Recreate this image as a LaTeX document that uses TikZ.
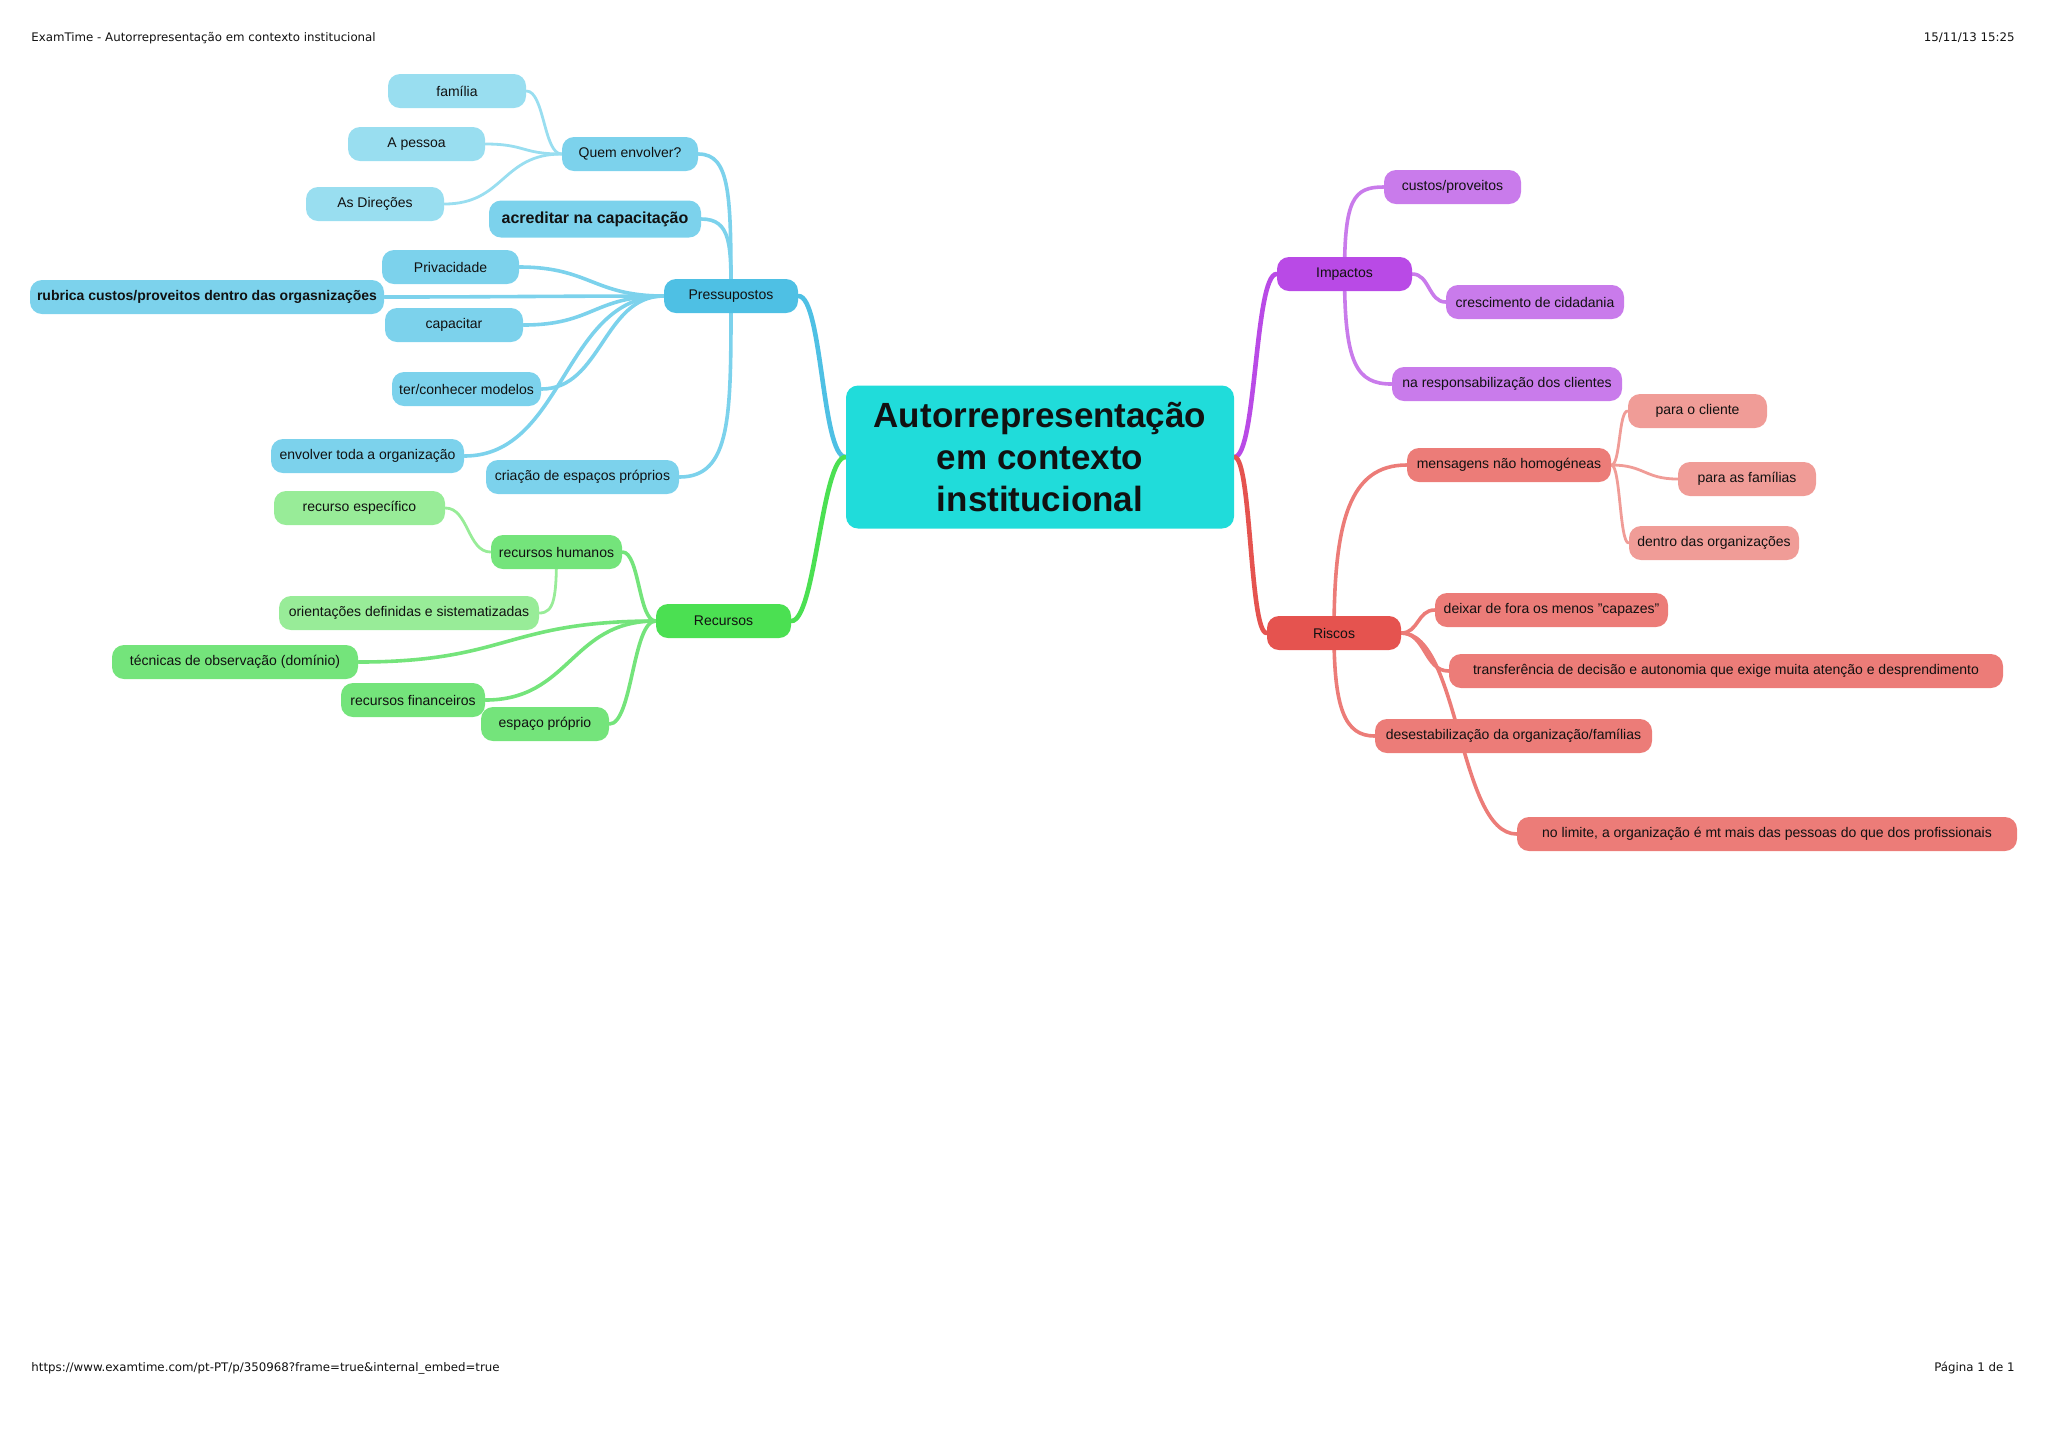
\documentclass[tikz,border=0pt]{standalone}
\usepackage{fontspec}
\setmainfont{Liberation Sans}
\newfontfamily\hdrfont{DejaVu Sans}
\usetikzlibrary{backgrounds}
\definecolor{cenC}{HTML}{20DCDA}
\definecolor{bluA}{HTML}{4EC0E4}
\definecolor{bluB}{HTML}{7CD2EC}
\definecolor{bluC}{HTML}{99DEF0}
\definecolor{grnA}{HTML}{4BE052}
\definecolor{grnB}{HTML}{74E47B}
\definecolor{grnC}{HTML}{98EC98}
\definecolor{purA}{HTML}{B94AE6}
\definecolor{purB}{HTML}{C97BEB}
\definecolor{redA}{HTML}{E5534F}
\definecolor{redB}{HTML}{EC7C78}
\definecolor{redC}{HTML}{F09C97}
\definecolor{txt}{HTML}{111111}
\begin{document}
\begin{tikzpicture}[x=0.5pt,y=-0.5pt,
  nd/.style={rounded corners=6pt, minimum height=17pt, inner xsep=3pt, inner ysep=0pt,
    font=\fontsize{7}{8.4}\selectfont, text=txt, minimum width=#1*0.5pt},
  bA/.style={nd=#1, fill=bluA}, bB/.style={nd=#1, fill=bluB}, bC/.style={nd=#1, fill=bluC},
  gA/.style={nd=#1, fill=grnA}, gB/.style={nd=#1, fill=grnB}, gC/.style={nd=#1, fill=grnC},
  pA/.style={nd=#1, fill=purA}, pB/.style={nd=#1, fill=purB},
  rA/.style={nd=#1, fill=redA}, rB/.style={nd=#1, fill=redB}, rC/.style={nd=#1, fill=redC},
  cen/.style={rounded corners=6pt, fill=cenC, minimum width=194pt, minimum height=71.5pt,
    align=center, font=\fontsize{17.5}{21}\selectfont\bfseries, text=txt},
  hdr/.style={font=\hdrfont\fontsize{5.9}{7}\selectfont, text=txt, inner sep=0pt},
  eA/.style={line width=2.3pt, line cap=round},
  eB/.style={line width=1.8pt, line cap=round},
  eC/.style={line width=1.4pt, line cap=round}]
\useasboundingbox (0,0) rectangle (2048,1448);

% header / footer
\node[hdr, anchor=west] (h1) at (31,38) {ExamTime - Autorrepresentação em contexto institucional};
\node[hdr, anchor=east] (h2) at (2015,38) {15/11/13 15:25};
\node[hdr, anchor=west] (f1) at (31,1368) {https://www.examtime.com/pt-PT/p/350968?frame=true\&internal\_embed=true};
\node[hdr, anchor=east] (f2) at (2015,1368) {Página 1 de 1};

% central
\node[cen] (c) at (1040,457) {Autorrepresentação\\em contexto\\institucional};

% blue branch
\node[bA=134] (pres) at (731,296) {Pressupostos};
\node[bB=136] (qe) at (630,154) {Quem envolver?};
\node[bC=138] (fam) at (457,91) {família};
\node[bC=137] (pessoa) at (416.5,144) {A pessoa};
\node[bC=138] (dir) at (375,204) {As Direções};
\node[bB=212, minimum height=18.5pt, font=\fontsize{8}{9.6}\selectfont\bfseries] (acred) at (595,219) {acreditar na capacitação};
\node[bB=137] (priv) at (450.5,267) {Privacidade};
\node[bB=354, inner xsep=1.5pt, font=\fontsize{7}{8.4}\selectfont\bfseries] (rub) at (207,297) {rubrica custos/proveitos dentro das orgasnizações};
\node[bB=138] (cap) at (454,325) {capacitar};
\node[bB=149] (ter) at (466.5,389) {ter/conhecer modelos};
\node[bB=193] (env) at (367.5,456) {envolver toda a organização};
\node[bB=193] (cria) at (582.5,477) {criação de espaços próprios};

% green branch
\node[gA=135] (rec) at (723.5,621) {Recursos};
\node[gC=171] (recesp) at (359.5,508) {recurso específico};
\node[gB=131] (rh) at (556.5,552) {recursos humanos};
\node[gC=260] (orient) at (409,613) {orientações definidas e sistematizadas};
\node[gB=246] (tec) at (235,662) {técnicas de observação (domínio)};
\node[gB=144] (fin) at (413,700) {recursos financeiros};
\node[gB=128] (esp) at (545,724) {espaço próprio};

% purple branch
\node[pA=135] (imp) at (1344.5,274) {Impactos};
\node[pB=137] (cust) at (1452.5,187) {custos/proveitos};
\node[pB=178] (cresc) at (1535,302) {crescimento de cidadania};
\node[pB=230] (resp) at (1507,384) {na responsabilização dos clientes};

% red branch
\node[rA=134] (risc) at (1334,633) {Riscos};
\node[rB=204] (mens) at (1509,465) {mensagens não homogéneas};
\node[rC=139] (cli) at (1697.5,411) {para o cliente};
\node[rC=138] (famr) at (1747,479) {para as famílias};
\node[rC=170] (dentro) at (1714,543) {dentro das organizações};
\node[rB=233] (deix) at (1551.5,610) {deixar de fora os menos "capazes"};
\node[rB=554] (transf) at (1726,671) {transferência de decisão e autonomia que exige muita atenção e desprendimento};
\node[rB=277] (desest) at (1513.5,736) {desestabilização da organização/famílias};
\node[rB=500] (nolim) at (1767,834) {no limite, a organização é mt mais das pessoas do que dos profissionais};

\begin{scope}[on background layer]
% blue
\draw[eA, bluA] (c.west) .. controls +(-24,0) and +(24,0) .. (pres.east);
\draw[eB, bluB] (pres.center) .. controls +(0,-100) and +(32,0) .. (qe.east);
\draw[eB, bluB] (pres.center) .. controls +(0,-50) and +(30,0) .. (acred.east);
\draw[eB, bluB] (pres.center) .. controls +(0,120) and +(52,0) .. (cria.east);
\draw[eB, bluB] (pres.west) .. controls +(-70,0) and +(70,0) .. (priv.east);
\draw[eB, bluB] (pres.west) .. controls +(-100,0) and +(100,0) .. (rub.east);
\draw[eB, bluB] (pres.west) .. controls +(-70,0) and +(70,0) .. (cap.east);
\draw[eB, bluB] (pres.west) .. controls +(-60,0) and +(60,0) .. (ter.east);
\draw[eB, bluB] (pres.west) .. controls +(-100,0) and +(100,0) .. (env.east);
\draw[eC, bluC] (qe.west) .. controls +(-18,0) and +(18,0) .. (fam.east);
\draw[eC, bluC] (qe.west) .. controls +(-40,0) and +(40,0) .. (pessoa.east);
\draw[eC, bluC] (qe.west) .. controls +(-60,0) and +(60,0) .. (dir.east);
% green
\draw[eA, grnA] (c.west) .. controls +(-24,0) and +(24,0) .. (rec.east);
\draw[eB, grnB] (rec.west) .. controls +(-17,0) and +(17,0) .. (rh.east);
\draw[eB, grnB] (rec.west) .. controls +(-150,0) and +(150,0) .. (tec.east);
\draw[eB, grnB] (rec.west) .. controls +(-85,0) and +(85,0) .. (fin.east);
\draw[eB, grnB] (rec.west) .. controls +(-23,0) and +(23,0) .. (esp.east);
\draw[eC, grnC] (rh.west) .. controls +(-23,0) and +(23,0) .. (recesp.east);
\draw[eC, grnC] (rh.center) .. controls +(0,45) and +(15,0) .. (orient.east);
% purple
\draw[eA, purA] (c.east) .. controls +(22,0) and +(-22,0) .. (imp.west);
\draw[eB, purB] (imp.center) .. controls +(0,-75) and +(-30,0) .. (cust.west);
\draw[eB, purB] (imp.east) .. controls +(17,0) and +(-17,0) .. (cresc.west);
\draw[eB, purB] (imp.center) .. controls +(0,90) and +(-35,0) .. (resp.west);
% red
\draw[eA, redA] (c.east) .. controls +(17,0) and +(-17,0) .. (risc.west);
\draw[eB, redB] (risc.center) .. controls +(0,-112) and +(-57,0) .. (mens.west);
\draw[eB, redB] (risc.east) .. controls +(17,0) and +(-17,0) .. (deix.west);
\draw[eB, redB] (risc.east) .. controls +(24,0) and +(-24,0) .. (transf.west);
\draw[eB, redB] (risc.center) .. controls +(0,75) and +(-30,0) .. (desest.west);
\draw[eB, redB] (risc.east) .. controls +(58,0) and +(-58,0) .. (nolim.west);
\draw[eC, redC] (mens.east) .. controls +(9,0) and +(-9,0) .. (cli.west);
\draw[eC, redC] (mens.east) .. controls +(33,0) and +(-33,0) .. (famr.west);
\draw[eC, redC] (mens.east) .. controls +(9,0) and +(-9,0) .. (dentro.west);
\end{scope}
\end{tikzpicture}
\end{document}
